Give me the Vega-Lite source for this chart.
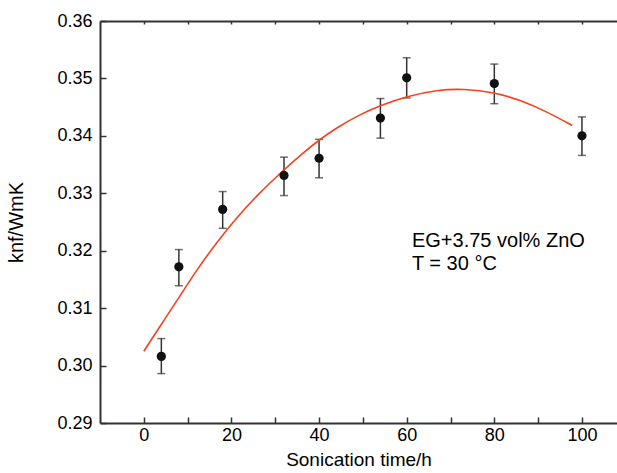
{
  "$schema": "https://vega.github.io/schema/vega-lite/v6.json",
  "autosize": "none",
  "width": 517,
  "height": 402,
  "padding": {"left": 100, "top": 21, "right": 0, "bottom": 50},
  "background": "white",
  "config": {
    "view": {"stroke": null},
    "font": "Liberation Sans",
    "axis": {"labelFont": "Liberation Sans", "titleFont": "Liberation Sans", "labelColor": "#000", "titleColor": "#000", "titleFontWeight": "normal", "domainColor": "#333", "domainWidth": 2, "ticks": true, "tickColor": "#333", "tickWidth": 1.5, "grid": false}
  },
  "datasets": {
    "pts": [
      {"t": 4, "k": 0.3016, "lo": 0.2986, "hi": 0.3047},
      {"t": 8, "k": 0.3172, "lo": 0.3139, "hi": 0.3202},
      {"t": 18, "k": 0.3272, "lo": 0.3239, "hi": 0.3303},
      {"t": 32, "k": 0.3331, "lo": 0.3296, "hi": 0.3363},
      {"t": 40, "k": 0.3361, "lo": 0.3327, "hi": 0.3394},
      {"t": 54, "k": 0.3431, "lo": 0.3396, "hi": 0.3465},
      {"t": 60, "k": 0.3501, "lo": 0.3466, "hi": 0.3536},
      {"t": 80, "k": 0.3491, "lo": 0.3456, "hi": 0.3525},
      {"t": 100, "k": 0.3400, "lo": 0.3366, "hi": 0.3433}
    ],
    "fit": [
      {"t": 0, "k": 0.3025},
      {"t": 4, "k": 0.3072},
      {"t": 8, "k": 0.3118},
      {"t": 12, "k": 0.3166},
      {"t": 17, "k": 0.3218},
      {"t": 21, "k": 0.3256},
      {"t": 26, "k": 0.3298},
      {"t": 32, "k": 0.3341},
      {"t": 36, "k": 0.3368},
      {"t": 40, "k": 0.3393},
      {"t": 44, "k": 0.3414},
      {"t": 49, "k": 0.3436},
      {"t": 54, "k": 0.3453},
      {"t": 60, "k": 0.3469},
      {"t": 67, "k": 0.3480},
      {"t": 73, "k": 0.3482},
      {"t": 80, "k": 0.3476},
      {"t": 86, "k": 0.3462},
      {"t": 92, "k": 0.3442},
      {"t": 97.8, "k": 0.3418}
    ]
  },
  "resolve": {"axis": {"x": "independent"}},
  "layer": [
    {
      "data": {"name": "pts"},
      "mark": {"type": "rule", "color": "#333", "strokeWidth": 1.5},
      "encoding": {
        "x": {"field": "t", "type": "quantitative",
          "scale": {"domain": [-10, 108], "nice": false, "zero": false},
          "axis": {
            "title": "Sonication time/h", "titleFontSize": 19, "titlePadding": 6,
            "values": [0, 10, 20, 30, 40, 50, 60, 70, 80, 90, 100],
            "ticks": true,
            "tickSize": -6,
            "labelExpr": "datum.value % 20 === 0 ? datum.label : ''",
            "labelFontSize": 18, "labelPadding": 9, "labelFlush": false
          }},
        "y": {"field": "lo", "type": "quantitative",
          "scale": {"domain": [0.29, 0.36], "nice": false, "zero": false},
          "axis": {
            "title": "knf/WmK", "titleFontSize": 20, "titlePadding": 30,
            "values": [0.29, 0.295, 0.3, 0.305, 0.31, 0.315, 0.32, 0.325, 0.33, 0.335, 0.34, 0.345, 0.35, 0.355, 0.36],
            "ticks": true,
            "tickSize": -6,
            "labelExpr": "abs(datum.value * 100 - round(datum.value * 100)) < 0.01 ? format(datum.value, '.2f') : ''",
            "labelFontSize": 18, "labelPadding": 14, "labelFlush": false
          }},
        "y2": {"field": "hi"}
      }
    },
    {
      "data": {"name": "pts"},
      "mark": {"type": "tick", "orient": "horizontal", "color": "#333", "size": 8, "thickness": 1.5},
      "encoding": {
        "x": {"field": "t", "type": "quantitative", "axis": null},
        "y": {"field": "lo", "type": "quantitative"}
      }
    },
    {
      "data": {"name": "pts"},
      "mark": {"type": "tick", "orient": "horizontal", "color": "#333", "size": 8, "thickness": 1.5},
      "encoding": {
        "x": {"field": "t", "type": "quantitative", "axis": null},
        "y": {"field": "hi", "type": "quantitative"}
      }
    },
    {
      "data": {"name": "fit"},
      "mark": {"type": "line", "color": "#f5421c", "strokeWidth": 1.6, "interpolate": "basis"},
      "encoding": {
        "x": {"field": "t", "type": "quantitative",
          "axis": {"orient": "top", "title": null, "labels": false, "ticks": true, "values": [0, 10, 20, 30, 40, 50, 60, 70, 80, 90, 100], "tickSize": -3}},
        "y": {"field": "k", "type": "quantitative"}
      }
    },
    {
      "data": {"name": "pts"},
      "mark": {"type": "point", "filled": true, "shape": "circle", "size": 85, "color": "#111", "opacity": 1},
      "encoding": {
        "x": {"field": "t", "type": "quantitative", "axis": null},
        "y": {"field": "k", "type": "quantitative"}
      }
    },
    {
      "data": {"values": [{}]},
      "mark": {"type": "text", "text": ["EG+3.75 vol% ZnO", "T = 30 °C"], "align": "left", "baseline": "alphabetic", "fontSize": 20, "lineHeight": 23, "font": "Liberation Sans", "color": "#000"},
      "encoding": {
        "x": {"datum": 61.2, "type": "quantitative", "axis": null},
        "y": {"datum": 0.3207, "type": "quantitative"}
      }
    }
  ]
}
